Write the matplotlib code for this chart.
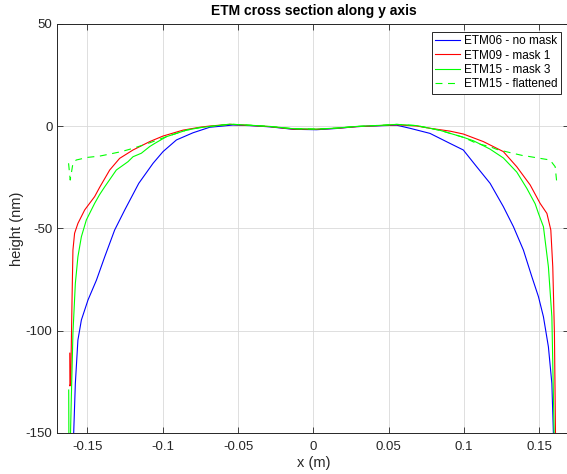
import matplotlib
matplotlib.use("Agg")
import matplotlib.pyplot as plt

plt.rcParams["font.family"] = ["Liberation Sans", "DejaVu Sans"]
plt.rcParams["lines.scale_dashes"] = False

# ETM06 - no mask
x_etm06 = [-0.1594, -0.1591, -0.1580, -0.1563, -0.1540, -0.1496, -0.1440, -0.1385,
           -0.1319, -0.1252, -0.1159, -0.1064, -0.0998, -0.0909, -0.0799, -0.0688,
           -0.0600, -0.0533, -0.0422, -0.0289, -0.0134, 0.0020, 0.0154, 0.0287,
           0.0464, 0.0553, 0.0641, 0.0774, 0.0907, 0.0995, 0.1084, 0.1173, 0.1261,
           0.1328, 0.1394, 0.1450, 0.1494, 0.1527, 0.1560, 0.1583, 0.1593, 0.1596]
y_etm06 = [-175, -150, -125.8, -104.6, -94.8, -85, -75.3, -63.9,
           -50.8, -41, -28, -18.2, -12.5, -6.8, -3.3, -0.6,
           0, 0.5, 0.2, -0.4, -1.6, -1.8, -1.2, -0.3,
           0.2, 0.4, -1.1, -3.6, -8.5, -11.7, -19.9, -28, -39.4,
           -49.2, -60.6, -73.6, -83.4, -93.2, -107.9, -125.8, -150, -175]

# ETM09 - mask 1
x_etm09 = [-0.1617, -0.1616, -0.1611, -0.1602, -0.1596, -0.1585, -0.1563, -0.1518,
           -0.1452, -0.1419, -0.1352, -0.1286, -0.1197, -0.1086, -0.0998, -0.0865,
           -0.0754, -0.0688, -0.0555, -0.0422, -0.0289, -0.0134, 0.0020, 0.0154,
           0.0287, 0.0464, 0.0553, 0.0686, 0.0774, 0.0907, 0.0995, 0.1128, 0.1261,
           0.1350, 0.1439, 0.1505, 0.1550, 0.1576, 0.1589, 0.1600, 0.1607, 0.1609]
y_etm09 = [-111, -127, -126, -85, -60.6, -52.4, -47.6, -41,
           -34.5, -30, -21.5, -15.8, -11.7, -7.6, -4.9, -2.0,
           -0.6, 0, 0.8, 0.3, -0.3, -1.5, -1.6, -1.1,
           -0.3, 0.3, 0.6, 0, -1.1, -2.5, -3.9, -7.6, -12.5,
           -19.9, -28.8, -37.8, -42.7, -50.8, -68.8, -101.3, -150, -175]

# ETM15 - mask 3
x_etm15 = [-0.1624, -0.1622, -0.1612, -0.1607, -0.1596, -0.1580, -0.1563, -0.1540,
           -0.1507, -0.1452, -0.1419, -0.1385, -0.1308, -0.1230, -0.1197, -0.1142,
           -0.1086, -0.1053, -0.0975, -0.0842, -0.0754, -0.0555, -0.0422, -0.0289,
           -0.0134, 0.0020, 0.0154, 0.0287, 0.0464, 0.0553, 0.0686, 0.0840, 0.0995,
           0.1062, 0.1128, 0.1173, 0.1261, 0.1350, 0.1417, 0.1472, 0.1494, 0.1527,
           0.1560, 0.1583, 0.1598, 0.1600]
y_etm15 = [-129, -170, -150, -133.9, -101.3, -76.9, -63.9, -54.1,
           -45.9, -37.8, -33.5, -29.7, -21.5, -17.4, -15, -13.3,
           -10, -8.5, -5.2, -2.0, -0.8, 0.9, 0.4, -0.2,
           -1.3, -1.5, -1.0, -0.2, 0.4, 0.8, 0.2, -2.1, -5.5,
           -7.2, -9.6, -11.3, -15.6, -22.5, -30.5, -38, -42.7, -49.2,
           -68.8, -93.2, -150, -175]

# ETM15 - flattened
x_flat = [-0.1625, -0.1614, -0.1596, -0.1574, -0.1496, -0.1419, -0.1385, -0.1274,
          -0.1197, -0.1164, -0.1086, -0.0975, -0.0842, -0.0754, -0.0555, -0.0422,
          -0.0289, -0.0134, 0.0020, 0.0154, 0.0287, 0.0464, 0.0553, 0.0686, 0.0840,
          0.0995, 0.1084, 0.1173, 0.1217, 0.1306, 0.1394, 0.1417, 0.1505, 0.1571,
          0.1605, 0.1616]
y_flat = [-18.2, -26.4, -18.2, -16.6, -15.3, -14.7, -14.2, -12.5,
          -10.9, -10.1, -8.2, -5.2, -2.0, -0.8, 0.9, 0.4,
          -0.2, -1.3, -1.5, -1.0, -0.2, 0.4, 0.8, 0.2, -2.1,
          -5.5, -8.5, -10.1, -11.4, -13, -14.5, -14.7, -15.8, -16.6,
          -19.9, -28]

x_ticks = [-0.15, -0.1, -0.05, 0, 0.05, 0.1, 0.15]
x_tick_labels = ["-0.15", "-0.1", "-0.05", "0", "0.05", "0.1", "0.15"]
y_ticks = [-150, -100, -50, 0, 50]

dark = (0.15, 0.15, 0.15)

fig = plt.figure(figsize=(5.67, 4.74), dpi=100)
ax = fig.add_axes([0.101, 0.0865, 0.9034, 0.8635])

ax.plot(x_etm06, y_etm06, color="blue", lw=0.8, label="ETM06 - no mask")
ax.plot(x_etm09, y_etm09, color="red", lw=0.8, label="ETM09 - mask 1")
ax.plot(x_etm15, y_etm15, color="lime", lw=0.8, label="ETM15 - mask 3")
ax.plot(x_flat, y_flat, color="lime", lw=0.8, dashes=(5, 4), label="ETM15 - flattened")

ax.set_xlim(-0.17, 0.17)
ax.set_ylim(-150, 50)
ax.set_xticks(x_ticks)
ax.set_xticklabels(x_tick_labels)
ax.set_yticks(y_ticks)
ax.set_yticklabels([str(v) for v in y_ticks])

ax.grid(True, color=(0.85, 0.85, 0.85), lw=0.6)
ax.set_axisbelow(True)
ax.tick_params(direction="in", top=True, right=True, length=4, width=0.6,
               color=dark, labelcolor=dark, labelsize=9.5)
ax.tick_params(axis="x", pad=6)
for s in ax.spines.values():
    s.set_color(dark)
    s.set_linewidth(0.7)

ax.set_title("ETM cross section along y axis", fontsize=10, fontweight="bold", pad=6)
ax.set_xlabel("x (m)", fontsize=10.5, color=dark, labelpad=2)
ax.set_ylabel("height (nm)", fontsize=10.5, color=dark, labelpad=1)

leg = ax.legend(loc="upper right", bbox_to_anchor=(0.9889, 0.9331),
                bbox_transform=fig.transFigure, borderaxespad=0,
                fontsize=8.5, fancybox=False, framealpha=1, edgecolor=dark,
                handlelength=2.1, labelspacing=0.2, handletextpad=0.3,
                borderpad=0.3)
leg.get_frame().set_linewidth(0.7)

fig.savefig("out.png", dpi=100)
